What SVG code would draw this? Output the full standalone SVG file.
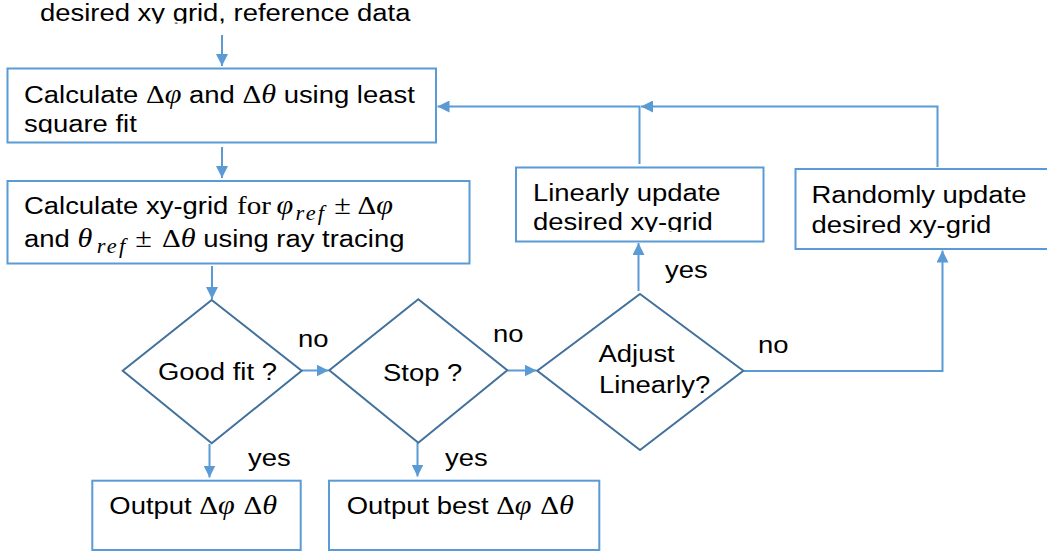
<svg xmlns="http://www.w3.org/2000/svg" width="1047" height="557" viewBox="0 0 1047 557">
  <style>
    .box { fill: #ffffff; stroke: #5B9BD5; stroke-width: 2; }
    .dec { fill: #ffffff; stroke: #41719C; stroke-width: 2; }
    .edge { fill: none; stroke: #5B9BD5; stroke-width: 2; }
    .t { font-family: "Liberation Sans", Arial, sans-serif; font-size: 24.5px; fill: #000000; }
    .m { font-family: "Liberation Serif", "Times New Roman", serif; font-size: 26px; font-style: normal; }
    .pm { font-family: "Liberation Serif", "Times New Roman", serif; font-size: 27px; font-style: normal; }
    .mi { font-family: "Liberation Serif", "Times New Roman", serif; font-size: 27px; font-style: italic; }
    .sub { font-family: "Liberation Serif", "Times New Roman", serif; font-size: 20px; font-style: italic; letter-spacing: 2px; }
  </style>
  <defs>
    <marker id="arrow" markerUnits="userSpaceOnUse" markerWidth="12" markerHeight="12" refX="12" refY="6" orient="auto">
      <path d="M0,0 L12,6 L0,12 z" fill="#5B9BD5"/>
    </marker>
    <!-- text lines whose descenders are cut off by their text frames -->
    <clipPath id="clipTop"><rect x="0" y="0" width="1047" height="23.5"/></clipPath>
    <clipPath id="clipSquare"><rect x="0" y="110" width="440" height="23.5"/></clipPath>
    <clipPath id="clipLinear"><rect x="516" y="208" width="248" height="24"/></clipPath>
  </defs>

  <!-- input label -->
  <g id="input" clip-path="url(#clipTop)">
    <text class="t" transform="translate(40 21) scale(1.12 1)">desired xy grid, reference data</text>
  </g>

  <!-- connectors -->
  <g id="connectors">
    <path class="edge" d="M222,35 V66" marker-end="url(#arrow)"/>
    <path class="edge" d="M222,147 V178" marker-end="url(#arrow)"/>
    <path class="edge" d="M212,266 V299" marker-end="url(#arrow)"/>
    <path class="edge" d="M302,370.5 H328.5" marker-end="url(#arrow)"/>
    <path class="edge" d="M507.5,370.5 H536.5" marker-end="url(#arrow)"/>
    <path class="edge" d="M743,371 H942.5 V250.5" marker-end="url(#arrow)"/>
    <path class="edge" d="M638.5,291 V243" marker-end="url(#arrow)"/>
    <path class="edge" d="M639.5,164 V106.5 H437.5" marker-end="url(#arrow)"/>
    <path class="edge" d="M937.5,167 V106.5 H641" marker-end="url(#arrow)"/>
    <path class="edge" d="M209.5,444 V477.5" marker-end="url(#arrow)"/>
    <path class="edge" d="M417.5,443 V476.5" marker-end="url(#arrow)"/>
  </g>

  <!-- least square fit step -->
  <g id="lsq">
    <rect class="box" x="7.5" y="68.5" width="428.5" height="74"/>
    <text class="t" transform="translate(24 102.5) scale(1.12 1)">Calculate <tspan class="m">Δ</tspan><tspan class="mi">φ</tspan> and <tspan class="m">Δ</tspan><tspan class="mi">θ</tspan> using least</text>
    <g clip-path="url(#clipSquare)">
      <text class="t" transform="translate(24 131.5) scale(1.12 1)">square fit</text>
    </g>
  </g>

  <!-- ray tracing step -->
  <g id="raytrace">
    <rect class="box" x="7.5" y="181" width="462" height="82.5"/>
    <text class="t" transform="translate(24 213.5) scale(1.12 1)">Calculate xy-grid <tspan class="m" dx="1">for</tspan><tspan class="mi" dx="5">φ</tspan><tspan class="sub" dx="2" dy="6">ref</tspan><tspan class="pm" dx="7" dy="-6">±</tspan><tspan class="m" dx="6">Δ</tspan><tspan class="mi">φ</tspan></text>
    <text class="t" transform="translate(24 246.5) scale(1.12 1)">and <tspan class="mi">θ</tspan><tspan class="sub" dx="4" dy="6">ref</tspan><tspan class="pm" dx="7" dy="-6">±</tspan><tspan class="m" dx="9">Δ</tspan><tspan class="mi">θ</tspan> using ray tracing</text>
  </g>

  <!-- linear update -->
  <g id="linear">
    <rect class="box" x="516" y="167.5" width="247.5" height="74"/>
    <text class="t" transform="translate(533 200.5) scale(1.12 1)">Linearly update</text>
    <g clip-path="url(#clipLinear)">
      <text class="t" transform="translate(533 230) scale(1.12 1)">desired xy-grid</text>
    </g>
  </g>

  <!-- random update -->
  <g id="random">
    <rect class="box" x="795.5" y="169" width="262" height="80"/>
    <text class="t" transform="translate(811.5 202.5) scale(1.12 1)">Randomly update</text>
    <text class="t" transform="translate(811.5 233) scale(1.12 1)">desired xy-grid</text>
  </g>

  <!-- decisions -->
  <g id="goodfit">
    <polygon class="dec" points="211.7,300 301.7,370.7 211.7,443.3 122.7,370.7"/>
    <text class="t" transform="translate(158 380) scale(1.12 1)">Good fit ?</text>
  </g>
  <g id="stop">
    <polygon class="dec" points="418.3,299.3 507.3,370.3 418.3,442.7 329.3,370.3"/>
    <text class="t" transform="translate(383 380.5) scale(1.12 1)">Stop ?</text>
  </g>
  <g id="adjust">
    <polygon class="dec" points="640,294 743.3,370.7 640,450 537.3,370.7"/>
    <text class="t" transform="translate(598.5 362) scale(1.12 1)">Adjust</text>
    <text class="t" transform="translate(599 393) scale(1.12 1)">Linearly?</text>
  </g>

  <!-- outputs -->
  <g id="output">
    <rect class="box" x="92.3" y="480.7" width="208.4" height="69.3"/>
    <text class="t" transform="translate(109.3 514) scale(1.12 1)">Output <tspan class="m">Δ</tspan><tspan class="mi">φ</tspan> <tspan class="m" dx="1">Δ</tspan><tspan class="mi">θ</tspan></text>
  </g>
  <g id="outputbest">
    <rect class="box" x="329" y="480.7" width="270.3" height="69.3"/>
    <text class="t" transform="translate(346.7 513.5) scale(1.12 1)">Output best <tspan class="m">Δ</tspan><tspan class="mi">φ</tspan> <tspan class="m" dx="1">Δ</tspan><tspan class="mi">θ</tspan></text>
  </g>

  <!-- branch labels -->
  <g id="labels">
    <text class="t" transform="translate(298 346.5) scale(1.12 1)">no</text>
    <text class="t" transform="translate(493 341.5) scale(1.12 1)">no</text>
    <text class="t" transform="translate(758 352.5) scale(1.12 1)">no</text>
    <text class="t" transform="translate(665 278) scale(1.12 1)">yes</text>
    <text class="t" transform="translate(248 466) scale(1.12 1)">yes</text>
    <text class="t" transform="translate(445 466) scale(1.12 1)">yes</text>
  </g>
</svg>
